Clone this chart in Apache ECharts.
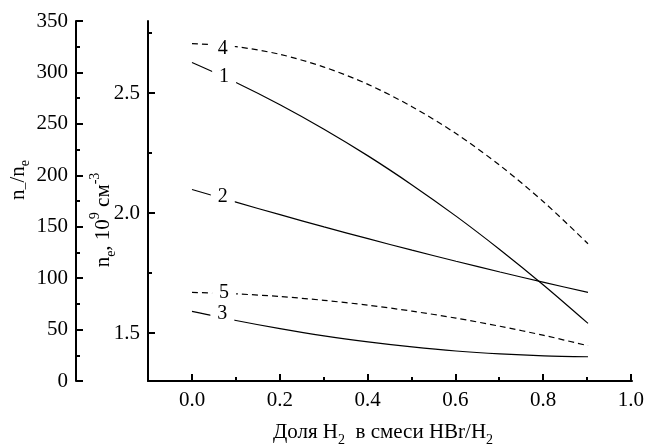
<!DOCTYPE html>
<html>
<head>
<meta charset="utf-8">
<script src="https://cdn.jsdelivr.net/npm/echarts@6/dist/echarts.min.js"></script>
<style>
  html, body { margin: 0; padding: 0; background: #fff; }
  #chart { width: 647px; height: 447px; }
</style>
</head>
<body>
<div id="chart"></div>
<script>
// H2 fraction in the HBr/H2 mixture
const xValues = [0, 0.1, 0.2, 0.3, 0.4, 0.5, 0.6, 0.7, 0.8, 0.9];

// electron density n_e, 10^9 cm^-3 (solid curves 1-3, dashed 4-5)
const curve1 = [2.627, 2.544, 2.451, 2.349, 2.238, 2.117, 1.987, 1.847, 1.698, 1.540];
const curve2 = [2.098, 2.045, 1.993, 1.942, 1.893, 1.845, 1.799, 1.754, 1.711, 1.669];
const curve3 = [1.590, 1.552, 1.518, 1.488, 1.463, 1.442, 1.425, 1.413, 1.405, 1.401];
const curve4 = [2.706, 2.693, 2.661, 2.608, 2.536, 2.443, 2.331, 2.198, 2.045, 1.872];
const curve5 = [1.669, 1.663, 1.652, 1.636, 1.616, 1.591, 1.562, 1.528, 1.490, 1.447];

// curve numbers and where they sit on their curves
const curveNames  = ['1', '2', '3', '4', '5'];
const curveLabelX = [0.073, 0.070, 0.069, 0.070, 0.073];
const curveLabelY = [2.566, 2.068, 1.579, 2.685, 1.667];

// axis ranges and tick steps
const xRange = [-0.1, 1.0];
const xTickRange = [0, 1.0], xStep = 0.2;
const neRange = [1.3, 2.8];
const neMajorRange = [1.5, 2.5], neMinorRange = [1.75, 2.75], neStep = 0.5;
const ratioRange = [0, 350], ratioStep = 50;

const FONT = 'Liberation Serif';
const BLACK = '#000';

// plot box in pixels
const W = 647, H = 447;
const box = { left: 148, right: 15, top: 21, bottom: 66 };
const plotW = W - box.left - box.right;
const plotH = H - box.top - box.bottom;
const xPx = v => box.left + (v - xRange[0]) / (xRange[1] - xRange[0]) * plotW;
const yPx = v => H - box.bottom - (v - neRange[0]) / (neRange[1] - neRange[0]) * plotH;

const pairs = ys => xValues.map((x, i) => [x, ys[i]]);

const lineSeries = (data, dashed) => ({
  type: 'line',
  data: pairs(data),
  xAxisIndex: 0,
  yAxisIndex: 0,
  smooth: 0.3,
  symbol: 'none',
  silent: true,
  z: 2,
  lineStyle: { color: BLACK, width: 1.2, type: dashed ? [6, 4] : 'solid' }
});

const labelSeries = {
  type: 'scatter',
  xAxisIndex: 0,
  yAxisIndex: 0,
  symbolSize: 0,
  silent: true,
  z: 5,
  itemStyle: { opacity: 1, color: BLACK },
  data: curveNames.map((n, i) => ({ name: n, value: [curveLabelX[i], curveLabelY[i]] })),
  label: {
    show: true,
    position: 'inside',
    formatter: p => p.name,
    fontFamily: FONT,
    fontSize: 20,
    color: BLACK,
    opacity: 1,
    textBorderWidth: 0,
    backgroundColor: '#fff',
    padding: [0, 7],
    lineHeight: 18
  }
};

const tickLabel = { fontFamily: FONT, fontSize: 21, color: BLACK };
const tickLine = { color: BLACK, width: 2 };
const hiddenAxis = (gridIndex, min, max) => ({ type: 'value', gridIndex, min, max, show: false });
const neGrid = range => ({
  left: box.left, right: box.right, top: yPx(range[1]), bottom: H - yPx(range[0])
});

const chart = echarts.init(document.getElementById('chart'), null, { renderer: 'canvas' });

chart.setOption({
  animation: false,
  backgroundColor: '#fff',
  grid: [
    // data area
    { left: box.left, right: box.right, top: box.top, bottom: box.bottom },
    // n_e major ticks and labels
    neGrid(neMajorRange),
    // x ticks and labels, 0 to 1
    { left: xPx(xTickRange[0]), right: W - xPx(xTickRange[1]), top: box.top, bottom: box.bottom },
    // n_e minor ticks
    neGrid(neMinorRange)
  ],
  xAxis: [
    {
      type: 'value', gridIndex: 0, min: xRange[0], max: xRange[1], position: 'bottom',
      axisLine: { show: true, onZero: false, lineStyle: tickLine },
      axisTick: { show: false },
      axisLabel: { show: false },
      splitLine: { show: false }
    },
    hiddenAxis(1, 0, 1),
    {
      type: 'value', gridIndex: 2, min: xTickRange[0], max: xTickRange[1], interval: xStep,
      position: 'bottom',
      axisLine: { show: false, onZero: false },
      axisTick: { show: true, inside: true, length: 7, lineStyle: tickLine },
      minorTick: { show: true, splitNumber: 2, length: 4, lineStyle: tickLine },
      axisLabel: { ...tickLabel, margin: 9, formatter: v => v.toFixed(1) },
      splitLine: { show: false }
    },
    hiddenAxis(3, 0, 1)
  ],
  yAxis: [
    {
      type: 'value', gridIndex: 0, min: neRange[0], max: neRange[1], position: 'left',
      axisLine: { show: true, onZero: false, lineStyle: tickLine },
      axisTick: { show: false },
      axisLabel: { show: false },
      splitLine: { show: false }
    },
    {
      // n_-/n_e scale
      type: 'value', gridIndex: 0, min: ratioRange[0], max: ratioRange[1], interval: ratioStep,
      position: 'left', offset: 72,
      axisLine: { show: true, onZero: false, lineStyle: tickLine },
      axisTick: { show: true, inside: true, length: 7, lineStyle: tickLine },
      minorTick: { show: true, splitNumber: 2, length: 4, lineStyle: tickLine },
      axisLabel: { ...tickLabel, margin: 8 },
      splitLine: { show: false }
    },
    {
      type: 'value', gridIndex: 1, min: neMajorRange[0], max: neMajorRange[1], interval: neStep,
      position: 'left',
      axisLine: { show: false, onZero: false },
      axisTick: { show: true, inside: true, length: 7, lineStyle: tickLine },
      axisLabel: { ...tickLabel, margin: 8, formatter: v => v.toFixed(1) },
      splitLine: { show: false }
    },
    hiddenAxis(2, 0, 1),
    {
      type: 'value', gridIndex: 3, min: neMinorRange[0], max: neMinorRange[1], interval: neStep,
      position: 'left',
      axisLine: { show: false, onZero: false },
      axisTick: { show: true, inside: true, length: 4, lineStyle: tickLine },
      axisLabel: { show: false },
      splitLine: { show: false }
    }
  ],
  series: [
    lineSeries(curve1, false),
    lineSeries(curve2, false),
    lineSeries(curve3, false),
    lineSeries(curve4, true),
    lineSeries(curve5, true),
    labelSeries
  ],
  graphic: [
    {
      type: 'text', x: 383, y: 432,
      style: {
        text: '{m|Доля H}{s|2}{m|  в смеси HBr/H}{s|2}',
        align: 'center', verticalAlign: 'middle', fill: BLACK,
        rich: {
          m: { fontFamily: FONT, fontSize: 21, lineHeight: 30, verticalAlign: 'middle', fill: BLACK },
          s: { fontFamily: FONT, fontSize: 14, lineHeight: 30, verticalAlign: 'bottom', fill: BLACK }
        }
      }
    },
    {
      type: 'text', x: 18, y: 180, rotation: Math.PI / 2,
      style: {
        text: '{m|n}{s|–}{m|/n}{s|e}',
        align: 'center', verticalAlign: 'middle', fill: BLACK,
        rich: {
          m: { fontFamily: FONT, fontSize: 21, lineHeight: 28, verticalAlign: 'middle', fill: BLACK },
          s: { fontFamily: FONT, fontSize: 14, lineHeight: 28, verticalAlign: 'bottom', fill: BLACK }
        }
      }
    },
    {
      type: 'text', x: 103, y: 220, rotation: Math.PI / 2,
      style: {
        text: '{m|n}{s|e}{m|, 10}{p|9}{m| см}{p|-3}',
        align: 'center', verticalAlign: 'middle', fill: BLACK,
        rich: {
          m: { fontFamily: FONT, fontSize: 21, lineHeight: 30, verticalAlign: 'middle', fill: BLACK },
          s: { fontFamily: FONT, fontSize: 14, lineHeight: 30, verticalAlign: 'bottom', fill: BLACK },
          p: { fontFamily: FONT, fontSize: 14, lineHeight: 30, verticalAlign: 'top', fill: BLACK }
        }
      }
    }
  ]
});
</script>
</body>
</html>
